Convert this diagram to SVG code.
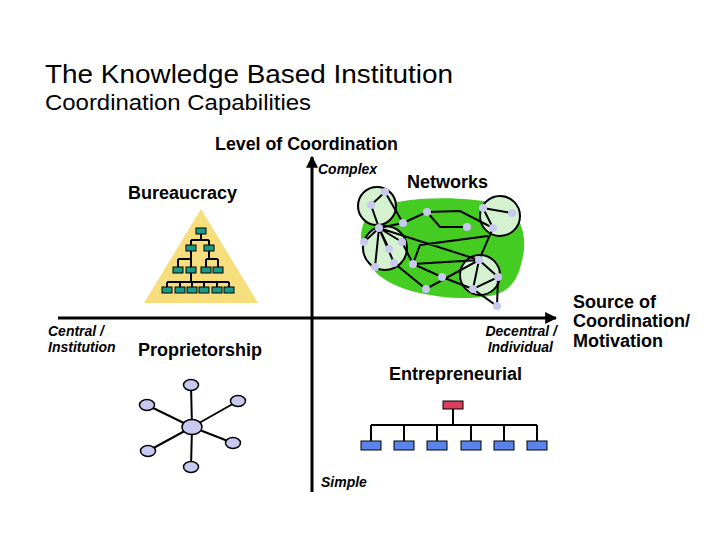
<svg xmlns="http://www.w3.org/2000/svg" width="720" height="540" viewBox="0 0 720 540">
<defs>
<style>
.t{font-family:"Liberation Sans",Arial,sans-serif;fill:#000}
.b{font-weight:bold;font-size:18px}
.bi{font-weight:bold;font-style:italic;font-size:14px}
.ln{stroke:#000;stroke-width:2;fill:none}
.tb{fill:#1a9a8a;stroke:#000;stroke-width:1}
.nd{fill:#c8c8f0;stroke:none}
.cir{fill:#d4f2d0;stroke:#000;stroke-width:2}
.el{fill:#c8c8f0;stroke:#000;stroke-width:1.5}
.bl{fill:#5a84ec;stroke:#000;stroke-width:1}
</style>
<marker id="ah" viewBox="0 0 10 10" refX="9" refY="5" markerWidth="4" markerHeight="4" orient="auto">
<path d="M0,0 L10,5 L0,10 z" fill="#000"/>
</marker>
</defs>
<rect width="720" height="540" fill="#fff"/>
<text class="t" x="45" y="83" font-size="26" textLength="408" lengthAdjust="spacingAndGlyphs">The Knowledge Based Institution</text>
<text class="t" x="45" y="110" font-size="22" textLength="266" lengthAdjust="spacingAndGlyphs">Coordination Capabilities</text>
<text class="t b" x="215" y="150" textLength="183" lengthAdjust="spacingAndGlyphs">Level of Coordination</text>

<g id="axes">
<line x1="58" y1="318" x2="556" y2="318" stroke="#000" stroke-width="3" marker-end="url(#ah)"/>
<line x1="312" y1="492" x2="312" y2="157" stroke="#000" stroke-width="3" marker-end="url(#ah)"/>
<text class="t bi" x="318" y="174">Complex</text>
<text class="t bi" x="321" y="487">Simple</text>
<text class="t bi" x="48" y="336">Central /</text>
<text class="t bi" x="48" y="352">Institution</text>
<text class="t bi" x="557" y="336" text-anchor="end">Decentral /</text>
<text class="t bi" x="553" y="352" text-anchor="end">Individual</text>
<text class="t b" x="573" y="308">Source of</text>
<text class="t b" x="573" y="327">Coordination/</text>
<text class="t b" x="573" y="347">Motivation</text>
</g>

<g id="bureaucracy">
<text class="t b" x="128" y="199">Bureaucracy</text>
<polygon points="201,209 258,303 144,303" fill="#f6de7c"/>
<path class="ln" stroke-width="1.5" d="M201,231 V240 M191,240 H209 M191,240 V248 M209,240 V248 M191,248 V259 M178,259 H191 M178,259 V270 M191,259 V270 M209,248 V259 M206,259 H218 M206,259 V270 M218,259 V270 M191,270 V282 M167,282 H229 M167,282 V290 M180,282 V290 M192,282 V290 M204,282 V290 M217,282 V290 M229,282 V290"/>
<rect class="tb" x="196" y="228" width="10" height="6"/>
<rect class="tb" x="186" y="245" width="10" height="6"/>
<rect class="tb" x="204" y="245" width="10" height="6"/>
<rect class="tb" x="173" y="267" width="10" height="6"/>
<rect class="tb" x="186" y="267" width="10" height="6"/>
<rect class="tb" x="201" y="267" width="10" height="6"/>
<rect class="tb" x="213" y="267" width="10" height="6"/>
<rect class="tb" x="162" y="287" width="10" height="6"/>
<rect class="tb" x="175" y="287" width="10" height="6"/>
<rect class="tb" x="187" y="287" width="10" height="6"/>
<rect class="tb" x="199" y="287" width="10" height="6"/>
<rect class="tb" x="212" y="287" width="10" height="6"/>
<rect class="tb" x="224" y="287" width="10" height="6"/>
</g>

<g id="networks">
<text class="t b" x="407" y="188">Networks</text>
<path d="M364,222 C375,206 395,201 420,199 C450,197 480,199 505,205 C522,215 528,240 522,260 C518,280 510,292 490,296 C465,300 440,298 415,292 C392,286 372,275 364,255 C360,242 360,232 364,222 z" fill="#44cc22"/>
<circle class="cir" cx="377" cy="206" r="19"/>
<circle class="cir" cx="385" cy="248" r="22"/>
<circle class="cir" cx="500" cy="216" r="20"/>
<circle class="cir" cx="480" cy="275" r="20"/>
<path class="ln" d="M385,192 L371,205 L379,228 M385,192 L403,223 M379,228 L403,223 L427,212 M379,228 L364,242 M379,228 L389,249 M379,228 L402,242 M379,228 L375,267 M379,228 L394,263 M427,212 L460,211 L493,228 M427,212 L440,227 L467,227 M483,208 L512,213 M483,208 L493,228 L479,260 M379,228 L479,260 M413,264 L420,245 L488,236 M413,264 L479,260 M402,242 L413,264 L442,277 L473,289 M394,263 L426,289 L479,260 L498,277 M479,260 L473,289 L498,277 L497,306 L473,289"/>
<g class="nd">
<circle cx="385" cy="192" r="4"/><circle cx="371" cy="205" r="4"/><circle cx="403" cy="223" r="4"/>
<circle cx="379" cy="228" r="4"/><circle cx="364" cy="242" r="4"/><circle cx="389" cy="249" r="4"/>
<circle cx="402" cy="242" r="4"/><circle cx="375" cy="267" r="4"/><circle cx="394" cy="263" r="4"/>
<circle cx="427" cy="212" r="4"/><circle cx="467" cy="227" r="4"/><circle cx="483" cy="208" r="4"/>
<circle cx="512" cy="213" r="4"/><circle cx="493" cy="228" r="4"/><circle cx="413" cy="264" r="4"/>
<circle cx="442" cy="277" r="4"/><circle cx="426" cy="289" r="4"/><circle cx="479" cy="260" r="4"/>
<circle cx="498" cy="277" r="4"/><circle cx="473" cy="289" r="4"/><circle cx="497" cy="306" r="4"/>
</g>
</g>

<g id="proprietorship">
<text class="t b" x="138" y="356">Proprietorship</text>
<path class="ln" stroke-width="2.5" d="M192,427 L191,385 M192,427 L147,405 M192,427 L238,401 M192,427 L233,443 M192,427 L148,451 M192,427 L191,467"/>
<ellipse class="el" cx="191" cy="385" rx="7.5" ry="5.5"/>
<ellipse class="el" cx="147" cy="405" rx="7.5" ry="5.5"/>
<ellipse class="el" cx="238" cy="401" rx="7.5" ry="5.5"/>
<ellipse class="el" cx="233" cy="443" rx="7.5" ry="5.5"/>
<ellipse class="el" cx="148" cy="451" rx="7.5" ry="5.5"/>
<ellipse class="el" cx="191" cy="467" rx="7.5" ry="5.5"/>
<ellipse class="el" cx="192" cy="427" rx="10" ry="7.5"/>
</g>

<g id="entrepreneurial">
<text class="t b" x="389" y="380">Entrepreneurial</text>
<path class="ln" stroke-width="2.5" d="M453,405 V425 M371,425 H537 M371,425 V446 M404,425 V446 M437,425 V446 M471,425 V446 M504,425 V446 M537,425 V446"/>
<rect x="443" y="401" width="20" height="8" fill="#d8405e" stroke="#000" stroke-width="1"/>
<rect class="bl" x="361" y="441" width="20" height="9"/>
<rect class="bl" x="394" y="441" width="20" height="9"/>
<rect class="bl" x="427" y="441" width="20" height="9"/>
<rect class="bl" x="461" y="441" width="20" height="9"/>
<rect class="bl" x="494" y="441" width="20" height="9"/>
<rect class="bl" x="527" y="441" width="20" height="9"/>
</g>
</svg>
